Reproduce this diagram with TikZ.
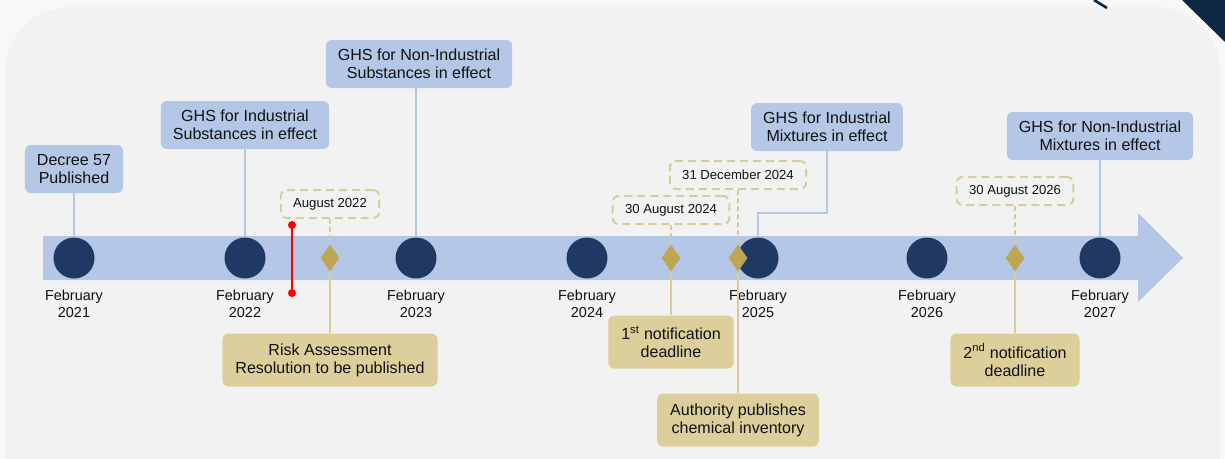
\documentclass[tikz,border=0pt]{standalone}
\usepackage{fontspec}
\setmainfont{Liberation Sans}
\usepackage{xcolor}
\usetikzlibrary{shapes, positioning}

\definecolor{bandblue}{HTML}{B4C7E7}
\definecolor{navy}{HTML}{1F3864}
\definecolor{tanfill}{HTML}{DCCF9B}
\definecolor{tanline}{HTML}{D9CC9C}
\definecolor{gold}{HTML}{BFA653}
\definecolor{panel}{HTML}{F2F2F2}
\definecolor{paper}{HTML}{F7F8F7}
\definecolor{corner}{HTML}{0E2841}
\definecolor{ink}{HTML}{111111}

\begin{document}
\begin{tikzpicture}[x=0.3mm, y=-0.3mm,
    event/.style={rectangle, fill=bandblue, rounded corners=1.8mm, align=center, inner xsep=3.6mm, minimum height=14.4mm, font=\fontsize{13.7}{15.4}\selectfont, text=ink},
    task/.style={rectangle, fill=tanfill, rounded corners=1.8mm, align=center, inner xsep=3.9mm, minimum height=15.9mm, font=\fontsize{13.7}{15.4}\selectfont, text=ink},
    datebox/.style={rectangle, draw=tanline, line width=0.6mm, dash pattern=on 2.4mm off 1.5mm, rounded corners=1.8mm, inner xsep=3.7mm, minimum height=8.4mm, font=\fontsize{11.2}{13}\selectfont, text=ink},
    year/.style={inner sep=0pt, align=center, font=\fontsize{12.3}{14.5}\selectfont, text=ink},
    milestone/.style={circle, fill=navy, minimum size=12.3mm, inner sep=0pt},
    gem/.style={diamond, fill=gold, minimum width=5.7mm, minimum height=8.1mm, inner sep=0pt},
    link/.style={draw=bandblue, line width=0.6mm},
    tie/.style={draw=tanline, line width=0.6mm},
    reddot/.style={circle, fill=red, minimum size=2.4mm, inner sep=0pt}]

\useasboundingbox (0,0) rectangle (1225,458);
\clip (0,0) rectangle (1225,458);

% Background
\fill[paper] (0,0) rectangle (1225,458);
\fill[panel, rounded corners=19.5mm] (5,7) rectangle (1220,530);
\fill[corner] (1182,0) -- (1225,0) -- (1225,42) -- cycle;
\draw[corner, line width=0.8mm] (1094,0) -- (1107,8);

% Timeline arrow
\fill[bandblue] (43,236) -- (1138,236) -- (1138,213) -- (1183,258) -- (1138,302) -- (1138,280) -- (43,280) -- cycle;

% Milestones
\node [milestone] (c21) at (74,258) {};
\node [milestone] (c22) at (245,258) {};
\node [milestone] (c23) at (416,258) {};
\node [milestone] (c24) at (587,258) {};
\node [milestone] (c25) at (758,258) {};
\node [milestone] (c26) at (927,258) {};
\node [milestone] (c27) at (1100,258) {};

\node [year, below=3.3mm of c21] (y21) {February\\2021};
\node [year, below=3.3mm of c22] (y22) {February\\2022};
\node [year, below=3.3mm of c23] (y23) {February\\2023};
\node [year, below=3.3mm of c24] (y24) {February\\2024};
\node [year, below=3.3mm of c25] (y25) {February\\2025};
\node [year, below=3.3mm of c26] (y26) {February\\2026};
\node [year, below=3.3mm of c27] (y27) {February\\2027};

% Events above
\node [event] (decree) at (74,169) {Decree 57\\Published};
\node [event] (ghsIS) at (245,125) {GHS for Industrial\\Substances in effect};
\node [event] (ghsNIS) at (419,64) {GHS for Non-Industrial\\Substances in effect};
\node [event] (ghsIM) at (827,127) {GHS for Industrial\\Mixtures in effect};
\node [event] (ghsNIM) at (1100,136) {GHS for Non-Industrial\\Mixtures in effect};
\coordinate (bend) at (758,213);

\draw[link] (decree) -- (c21);
\draw[link] (ghsIS) -- (c22);
\draw[link] (c23 |- ghsNIS.south) -- (c23);
\draw[link] (ghsIM.south) |- (bend) -- (c25);
\draw[link] (ghsNIM) -- (c27);

% Deadlines
\node [datebox] (d22) at (330,204) {August 2022};
\node [datebox] (d24a) at (671,210) {30 August 2024};
\node [datebox] (d24b) at (738,175) {31 December 2024};
\node [datebox] (d26) at (1015,191) {30 August 2026};

\node [gem] (g22) at (330,258) {};
\node [gem] (g24a) at (671,258) {};
\node [gem] (g24b) at (738,258) {};
\node [gem] (g26) at (1015,258) {};

\node [task] (risk) at (330,360) {Risk Assessment\\Resolution to be published};
\node [task] (note1) at (671,342) {1\textsuperscript{st} notification\\deadline};
\node [task] (inventory) at (738,420) {Authority publishes\\chemical inventory};
\node [task] (note2) at (1015,360) {2\textsuperscript{nd} notification\\deadline};

\draw[tie, dash pattern=on 1.5mm off 0.9mm] (d22) -- (g22);
\draw[tie, dash pattern=on 1.5mm off 0.9mm] (d24a) -- (g24a);
\draw[tie, dash pattern=on 1.5mm off 0.9mm] (d24b) -- (g24b);
\draw[tie, dash pattern=on 1.5mm off 0.9mm] (d26) -- (g26);
\draw[tie] (g22) -- (risk);
\draw[tie] (g24a) -- (note1);
\draw[tie] (g24b) -- (inventory);
\draw[tie] (g26) -- (note2);

% Red marker
\node [reddot] (r1) at (292,225) {};
\node [reddot] (r2) at (292,293) {};
\draw[red, line width=0.8mm] (r1) -- (r2);

\end{tikzpicture}
\end{document}
